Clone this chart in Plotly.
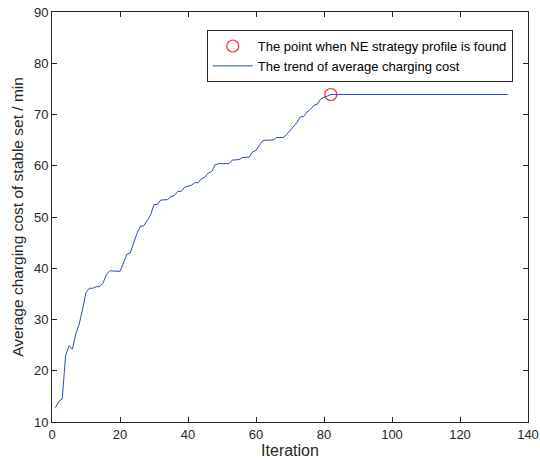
import plotly.graph_objects as go

# Average charging cost per iteration
rising_costs = [
    12.8, 14.0, 14.5, 22.9, 24.9, 24.2, 27.2, 29.1, 32.0, 35.3,   # 1-10
    36.1, 36.1, 36.4, 36.4, 37.1, 38.8, 39.5, 39.5, 39.4, 39.4,   # 11-20
    41.0, 42.7, 43.0, 45.0, 46.8, 48.2, 48.3, 49.3, 50.4, 52.4,   # 21-30
    52.5, 53.3, 53.4, 53.4, 54.0, 54.2, 55.0, 55.0, 55.8, 56.0,   # 31-40
    56.2, 56.7, 56.7, 57.5, 57.8, 58.6, 58.9, 60.2, 60.4, 60.4,   # 41-50
    60.4, 60.4, 61.1, 61.2, 61.2, 61.6, 61.7, 61.7, 62.7, 63.0,   # 51-60
    64.0, 64.9, 65.0, 65.0, 65.0, 65.5, 65.5, 65.5, 66.1, 66.8,   # 61-70
    67.6, 68.4, 69.5, 69.6, 70.5, 71.0, 71.8, 72.0, 73.0, 73.4,   # 71-80
    73.6, 73.9,                                                   # 81-82
]
plateau_cost = 73.9
last_iteration = 134
ne_iteration = 82
ne_cost = 73.9

costs = rising_costs + [plateau_cost] * (last_iteration - len(rising_costs))
iterations = list(range(1, last_iteration + 1))

x_ticks = [0, 20, 40, 60, 80, 100, 120, 140]
y_ticks = [10, 20, 30, 40, 50, 60, 70, 80, 90]

axis_color = "#262626"
font_family = "Liberation Sans, Arial, sans-serif"

fig = go.Figure()
fig.add_trace(go.Scatter(
    x=[ne_iteration], y=[ne_cost], mode="markers",
    name="The point when NE strategy profile is found",
    marker=dict(symbol="circle-open", size=12, color="#ff2a2a", line=dict(width=1.2, color="#ff2a2a")),
))
fig.add_trace(go.Scatter(
    x=iterations, y=costs, mode="lines",
    name="The trend of average charging cost",
    line=dict(color="#2b4cb8", width=1),
))

axis_common = dict(
    showline=True, linecolor=axis_color, linewidth=1, mirror="ticks",
    ticks="inside", ticklen=5, tickwidth=1, tickcolor=axis_color,
    showgrid=False, zeroline=False, automargin=False,
    tickfont=dict(family=font_family, size=13, color=axis_color),
)
fig.update_xaxes(range=[0, 140], tickvals=x_ticks,
                 title=dict(text="Iteration", font=dict(family=font_family, size=16, color=axis_color), standoff=4),
                 **axis_common)
fig.update_yaxes(range=[10, 90], tickvals=y_ticks,
                 title=dict(text="Average charging cost of stable set / min", font=dict(family=font_family, size=15.5, color=axis_color), standoff=6),
                 **axis_common)

fig.update_layout(
    width=540, height=472,
    margin=dict(l=52, r=12, t=12, b=50),
    plot_bgcolor="white", paper_bgcolor="white",
    font=dict(family=font_family, color=axis_color),
    showlegend=True,
    legend=dict(
        x=0.968, y=0.956, xanchor="right", yanchor="top",
        bgcolor="white", bordercolor=axis_color, borderwidth=1,
        font=dict(family=font_family, size=13, color="#000000"),
        tracegroupgap=0, itemwidth=40,
    ),
)

fig.write_html("out.html")
